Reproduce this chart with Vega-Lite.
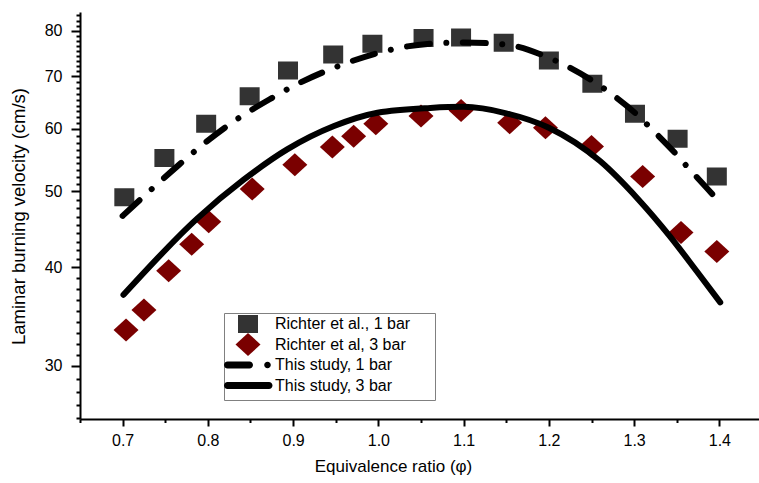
{
  "$schema": "https://vega.github.io/schema/vega-lite/v6.json",
  "width": 682,
  "height": 407,
  "autosize": {"type": "none"},
  "padding": {"left": 80, "top": 12, "right": 0, "bottom": 64},
  "background": "white",
  "config": {
    "view": {"stroke": null},
    "font": "Liberation Sans",
    "axis": {
      "domainColor": "black", "domainWidth": 2, "tickColor": "black", "tickWidth": 2,
      "labelFont": "Liberation Sans", "labelFontSize": 16, "labelColor": "black",
      "titleFont": "Liberation Sans", "titleFontWeight": "normal", "titleColor": "black",
      "grid": false, "labelOverlap": false, "labelFlush": false
    }
  },
  "data": {
    "values": [
      {"phi": 0.702, "v": 49.1, "series": "Richter et al., 1 bar"},
      {"phi": 0.749, "v": 55.1, "series": "Richter et al., 1 bar"},
      {"phi": 0.798, "v": 60.9, "series": "Richter et al., 1 bar"},
      {"phi": 0.849, "v": 66.0, "series": "Richter et al., 1 bar"},
      {"phi": 0.894, "v": 71.2, "series": "Richter et al., 1 bar"},
      {"phi": 0.947, "v": 74.6, "series": "Richter et al., 1 bar"},
      {"phi": 0.993, "v": 77.0, "series": "Richter et al., 1 bar"},
      {"phi": 1.053, "v": 78.3, "series": "Richter et al., 1 bar"},
      {"phi": 1.097, "v": 78.4, "series": "Richter et al., 1 bar"},
      {"phi": 1.147, "v": 77.2, "series": "Richter et al., 1 bar"},
      {"phi": 1.200, "v": 73.3, "series": "Richter et al., 1 bar"},
      {"phi": 1.251, "v": 68.5, "series": "Richter et al., 1 bar"},
      {"phi": 1.301, "v": 62.7, "series": "Richter et al., 1 bar"},
      {"phi": 1.351, "v": 58.3, "series": "Richter et al., 1 bar"},
      {"phi": 1.397, "v": 52.2, "series": "Richter et al., 1 bar"},
      {"phi": 0.704, "v": 33.3, "series": "Richter et al, 3 bar"},
      {"phi": 0.725, "v": 35.3, "series": "Richter et al, 3 bar"},
      {"phi": 0.754, "v": 39.6, "series": "Richter et al, 3 bar"},
      {"phi": 0.781, "v": 42.8, "series": "Richter et al, 3 bar"},
      {"phi": 0.801, "v": 45.7, "series": "Richter et al, 3 bar"},
      {"phi": 0.852, "v": 50.3, "series": "Richter et al, 3 bar"},
      {"phi": 0.902, "v": 54.0, "series": "Richter et al, 3 bar"},
      {"phi": 0.946, "v": 56.9, "series": "Richter et al, 3 bar"},
      {"phi": 0.971, "v": 58.7, "series": "Richter et al, 3 bar"},
      {"phi": 0.997, "v": 60.9, "series": "Richter et al, 3 bar"},
      {"phi": 1.050, "v": 62.3, "series": "Richter et al, 3 bar"},
      {"phi": 1.097, "v": 63.3, "series": "Richter et al, 3 bar"},
      {"phi": 1.154, "v": 61.1, "series": "Richter et al, 3 bar"},
      {"phi": 1.196, "v": 60.2, "series": "Richter et al, 3 bar"},
      {"phi": 1.250, "v": 57.0, "series": "Richter et al, 3 bar"},
      {"phi": 1.310, "v": 52.2, "series": "Richter et al, 3 bar"},
      {"phi": 1.355, "v": 44.3, "series": "Richter et al, 3 bar"},
      {"phi": 1.397, "v": 41.9, "series": "Richter et al, 3 bar"},
      {"phi": 0.700, "v": 46.5, "series": "This study, 1 bar"},
      {"phi": 0.766, "v": 54.0, "series": "This study, 1 bar"},
      {"phi": 0.794, "v": 57.3, "series": "This study, 1 bar"},
      {"phi": 0.832, "v": 61.5, "series": "This study, 1 bar"},
      {"phi": 0.872, "v": 65.4, "series": "This study, 1 bar"},
      {"phi": 0.907, "v": 68.6, "series": "This study, 1 bar"},
      {"phi": 0.950, "v": 71.9, "series": "This study, 1 bar"},
      {"phi": 0.995, "v": 74.7, "series": "This study, 1 bar"},
      {"phi": 1.034, "v": 76.4, "series": "This study, 1 bar"},
      {"phi": 1.061, "v": 77.0, "series": "This study, 1 bar"},
      {"phi": 1.100, "v": 77.3, "series": "This study, 1 bar"},
      {"phi": 1.150, "v": 76.8, "series": "This study, 1 bar"},
      {"phi": 1.200, "v": 73.9, "series": "This study, 1 bar"},
      {"phi": 1.269, "v": 67.0, "series": "This study, 1 bar"},
      {"phi": 1.303, "v": 62.6, "series": "This study, 1 bar"},
      {"phi": 1.317, "v": 60.5, "series": "This study, 1 bar"},
      {"phi": 1.348, "v": 55.9, "series": "This study, 1 bar"},
      {"phi": 1.361, "v": 53.9, "series": "This study, 1 bar"},
      {"phi": 1.390, "v": 49.8, "series": "This study, 1 bar"},
      {"phi": 1.400, "v": 48.4, "series": "This study, 1 bar"},
      {"phi": 0.701, "v": 36.9, "series": "This study, 3 bar"},
      {"phi": 0.788, "v": 46.2, "series": "This study, 3 bar"},
      {"phi": 0.842, "v": 51.7, "series": "This study, 3 bar"},
      {"phi": 0.893, "v": 56.5, "series": "This study, 3 bar"},
      {"phi": 0.948, "v": 60.5, "series": "This study, 3 bar"},
      {"phi": 0.999, "v": 62.9, "series": "This study, 3 bar"},
      {"phi": 1.061, "v": 63.8, "series": "This study, 3 bar"},
      {"phi": 1.100, "v": 64.0, "series": "This study, 3 bar"},
      {"phi": 1.150, "v": 62.8, "series": "This study, 3 bar"},
      {"phi": 1.200, "v": 60.2, "series": "This study, 3 bar"},
      {"phi": 1.260, "v": 54.6, "series": "This study, 3 bar"},
      {"phi": 1.305, "v": 48.8, "series": "This study, 3 bar"},
      {"phi": 1.342, "v": 43.8, "series": "This study, 3 bar"},
      {"phi": 1.373, "v": 39.6, "series": "This study, 3 bar"},
      {"phi": 1.401, "v": 36.1, "series": "This study, 3 bar"}
    ]
  },
  "encoding": {
    "x": {
      "field": "phi", "type": "quantitative",
      "scale": {"domain": [0.65, 1.45], "nice": false, "zero": false},
      "axis": {
        "title": "Equivalence ratio (φ)",
        "titleFontSize": 17, "titleX": 313, "titleY": 47, "titleAnchor": null, "titleAlign": "center", "titleBaseline": "middle",
        "values": [0.65, 0.7, 0.75, 0.8, 0.85, 0.9, 0.95, 1, 1.05, 1.1, 1.15, 1.2, 1.25, 1.3, 1.35, 1.4, 1.45],
        "format": ".1f",
        "labelExpr": "round(datum.value*100) % 10 === 0 ? datum.label : ''",
        "tickSize": {"condition": {"test": "round(datum.value*100) % 10 === 0", "value": 7}, "value": 3.5},
        "labelPadding": 6
      }
    },
    "y": {
      "field": "v", "type": "quantitative",
      "scale": {"type": "log", "domain": [25.65, 84.5], "nice": false, "zero": false},
      "axis": {
        "title": "Laminar burning velocity (cm/s)",
        "titleFontSize": 18.5, "titleX": -62, "titleY": 204, "titleAngle": -90, "titleAlign": "center", "titleBaseline": "middle",
        "values": [25.74, 26.72, 27.75, 28.85, 30, 30.974, 31.981, 33.019, 34.092, 35.199, 36.343, 37.523, 38.742, 40, 41.004, 42.034, 43.089, 44.17, 45.279, 46.416, 47.581, 48.776, 50, 51.023, 52.067, 53.133, 54.22, 55.33, 56.462, 57.618, 58.797, 60, 61.037, 62.091, 63.164, 64.255, 65.365, 66.494, 67.643, 68.811, 70, 71.046, 72.108, 73.186, 74.28, 75.39, 76.517, 77.661, 78.842, 80, 81.186, 82.41, 83.641],
        "format": ".0f",
        "labelExpr": "datum.value % 10 === 0 ? datum.label : ''",
        "tickSize": {"condition": {"test": "datum.value % 10 === 0", "value": 9}, "value": 4},
        "labelPadding": 9
      }
    }
  },
  "layer": [
    {
      "transform": [{"filter": "indexof(datum.series, 'Richter') === 0"}],
      "mark": {"type": "point", "filled": true, "size": 4, "opacity": 1, "strokeWidth": 0},
      "encoding": {
        "shape": {
          "field": "series", "type": "nominal",
          "scale": {
            "domain": ["Richter et al., 1 bar", "Richter et al, 3 bar", "This study, 1 bar", "This study, 3 bar"],
            "range": [
              "M0,-11.5ZM0,11.5ZM184,0ZM-10,-9H10V9H-10Z",
              "M0,-11.5L12.5,0L0,11.5L-12.5,0Z",
              "M0,-11.5ZM0,11.5ZM-20.5,-3.5H1.5A3.5,3.5 0 0 1 1.5,3.5H-20.5A3.5,3.5 0 0 1 -20.5,-3.5ZM16.2,0A3.3,3.3 0 1 0 22.8,0A3.3,3.3 0 1 0 16.2,0Z",
              "M0,-11.5ZM0,11.5ZM-20.5,-3.5H21A3.5,3.5 0 0 1 21,3.5H-20.5A3.5,3.5 0 0 1 -20.5,-3.5Z"
            ]
          },
          "legend": {
            "title": null, "orient": "none", "legendX": 144, "legendY": 301,
            "padding": 3, "strokeColor": "#808080", "fillColor": "white",
            "labelFont": "Liberation Sans", "labelFontSize": 16, "labelColor": "black",
            "symbolSize": 4, "symbolOffset": 13, "labelOffset": 19, "rowPadding": -3.5,
            "symbolOpacity": 1, "symbolStrokeWidth": 0
          }
        },
        "color": {
          "field": "series", "type": "nominal",
          "scale": {
            "domain": ["Richter et al., 1 bar", "Richter et al, 3 bar", "This study, 1 bar", "This study, 3 bar"],
            "range": ["#333333", "#7a0000", "#000000", "#000000"]
          },
          "legend": {
            "title": null, "orient": "none", "legendX": 144, "legendY": 301,
            "padding": 3, "strokeColor": "#808080", "fillColor": "white",
            "labelFont": "Liberation Sans", "labelFontSize": 16, "labelColor": "black",
            "symbolSize": 4, "symbolOffset": 13, "labelOffset": 19, "rowPadding": -3.5,
            "symbolOpacity": 1, "symbolStrokeWidth": 0
          }
        }
      }
    },
    {
      "transform": [{"filter": "datum.series === 'This study, 1 bar'"}],
      "mark": {"type": "line", "color": "black", "strokeWidth": 6, "strokeCap": "round", "strokeDash": [23, 16.5, 0.01, 16.5], "interpolate": "monotone"},
      "encoding": {}
    },
    {
      "transform": [{"filter": "datum.series === 'This study, 3 bar'"}],
      "mark": {"type": "line", "color": "black", "strokeWidth": 6, "strokeCap": "round", "interpolate": "monotone"},
      "encoding": {}
    }
  ]
}
